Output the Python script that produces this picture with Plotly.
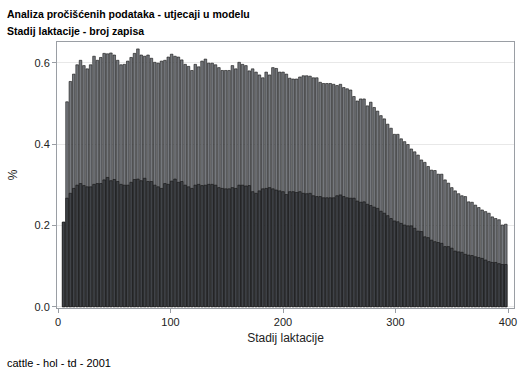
import plotly.graph_objects as go

# Lactation stage (days), one bar every 3 days
days = [5 + 3 * i for i in range(132)]

# Total share (%) - lighter bars
total_pct = [
    0.208, 0.504, 0.554, 0.572, 0.595, 0.606, 0.593, 0.585, 0.595, 0.616,
    0.606, 0.613, 0.623, 0.622, 0.624, 0.619, 0.606, 0.595, 0.596, 0.604,
    0.613, 0.623, 0.634, 0.619, 0.616, 0.619, 0.611,
    0.601, 0.599, 0.604, 0.606, 0.614, 0.621, 0.616, 0.614, 0.607, 0.596,
    0.591, 0.581, 0.596, 0.590, 0.604, 0.609, 0.599, 0.599, 0.595, 0.588,
    0.581, 0.581, 0.581, 0.593, 0.585, 0.601, 0.596,
    0.593, 0.580, 0.585, 0.577, 0.570, 0.563, 0.577, 0.570, 0.588, 0.586,
    0.577, 0.577, 0.572, 0.562, 0.560, 0.560, 0.565, 0.568, 0.568, 0.567,
    0.563, 0.563, 0.552, 0.549, 0.549, 0.549, 0.547,
    0.544, 0.547, 0.539, 0.536, 0.533, 0.517, 0.506, 0.511, 0.511, 0.494,
    0.503, 0.490, 0.481, 0.470, 0.462, 0.449, 0.439, 0.424, 0.424, 0.413,
    0.406, 0.399, 0.388, 0.381, 0.373, 0.361,
    0.355, 0.345, 0.336, 0.335, 0.326, 0.326, 0.312, 0.304, 0.293, 0.285,
    0.278, 0.273, 0.271, 0.258, 0.257, 0.250, 0.244, 0.238, 0.234, 0.230,
    0.221, 0.217, 0.214, 0.201, 0.203,
]

# Subset share (%) - darker bars
subset_pct = [
    0.208, 0.267, 0.279, 0.291, 0.299, 0.303, 0.298, 0.295, 0.295, 0.301,
    0.303, 0.303, 0.312, 0.318, 0.310, 0.313, 0.308, 0.301, 0.299, 0.299,
    0.306, 0.313, 0.314, 0.310, 0.316, 0.308, 0.308,
    0.299, 0.295, 0.291, 0.303, 0.301, 0.309, 0.314, 0.306, 0.308, 0.299,
    0.295, 0.291, 0.299, 0.301, 0.298, 0.299, 0.301, 0.301, 0.299, 0.293,
    0.291, 0.290, 0.290, 0.293, 0.291, 0.299, 0.299,
    0.297, 0.298, 0.283, 0.279, 0.285, 0.290, 0.291, 0.293, 0.290, 0.287,
    0.285, 0.283, 0.276, 0.283, 0.283, 0.281, 0.283, 0.279, 0.278, 0.279,
    0.273, 0.271, 0.271, 0.268, 0.268, 0.268, 0.268,
    0.273, 0.275, 0.271, 0.268, 0.267, 0.267, 0.260, 0.257, 0.258, 0.252,
    0.249, 0.245, 0.242, 0.235, 0.230, 0.224, 0.217, 0.211, 0.209, 0.205,
    0.201, 0.199, 0.199, 0.193, 0.186, 0.185,
    0.172, 0.170, 0.164, 0.160, 0.158, 0.156, 0.148, 0.148, 0.144, 0.137,
    0.135, 0.134, 0.129, 0.127, 0.126, 0.123, 0.121, 0.119, 0.115, 0.111,
    0.109, 0.109, 0.106, 0.104, 0.104,
]

x_ticks = [0, 100, 200, 300, 400]
y_ticks = [0.0, 0.2, 0.4, 0.6]

title_lines = ["Analiza pročišćenih podataka - utjecaji u modelu", "Stadij laktacije - broj zapisa"]
footnote = "cattle - hol - td - 2001"

FONT = "Liberation Sans, Arial, sans-serif"

fig = go.Figure()
fig.add_trace(go.Bar(
    x=days, y=total_pct, width=2.3,
    marker=dict(color="#76797e", line=dict(color="#111111", width=0.6)),
    showlegend=False, hoverinfo="skip",
))
fig.add_trace(go.Bar(
    x=days, y=subset_pct, width=2.3,
    marker=dict(color="#404348", line=dict(color="#111111", width=0.6)),
    showlegend=False, hoverinfo="skip",
))

axis_common = dict(
    showline=True, linecolor="#9a9ea4", linewidth=1, mirror=True,
    ticks="outside", ticklen=4, tickcolor="#9a9ea4",
    tickfont=dict(family=FONT, size=11, color="#222222"),
    zeroline=False,
)

fig.update_layout(
    width=529, height=378,
    margin=dict(l=55, r=12, t=42, b=70),
    paper_bgcolor="white", plot_bgcolor="white",
    barmode="overlay",
    font=dict(family=FONT, size=11, color="#111111"),
    xaxis=dict(
        range=[-0.9, 405.3], tickvals=x_ticks, showgrid=False,
        title=dict(text="Stadij laktacije", font=dict(family=FONT, size=12, color="#222222"), standoff=6),
        **axis_common,
    ),
    yaxis=dict(
        range=[-0.003, 0.651], tickvals=y_ticks, tickformat=".1f",
        showgrid=True, gridcolor="#e8e8e8", gridwidth=1,
        title=dict(text="%", font=dict(family=FONT, size=12, color="#222222"), standoff=14),
        **axis_common,
    ),
    annotations=[
        dict(text="<b>" + title_lines[0] + "</b>", xref="paper", yref="paper",
             x=0, y=0, xanchor="left", yanchor="middle", showarrow=False,
             font=dict(family=FONT, size=10.5, color="#000000")),
        dict(text="<b>" + title_lines[1] + "</b>", xref="paper", yref="paper",
             x=0, y=0, xanchor="left", yanchor="middle", showarrow=False,
             font=dict(family=FONT, size=10.5, color="#000000")),
        dict(text=footnote, xref="paper", yref="paper",
             x=0, y=0, xanchor="left", yanchor="middle", showarrow=False,
             font=dict(family=FONT, size=11, color="#000000")),
    ],
)

# position annotations in pixel terms relative to plot area
plot_h = 378 - 42 - 70
plot_w = 529 - 55 - 12
def px_to_paper(xp, yp):
    return (xp - 55) / plot_w, (378 - 70 - yp) / plot_h

for ann, (xp, yp) in zip(fig.layout.annotations, [(2, 14), (2, 31), (2, 363)]):
    px, py = px_to_paper(xp, yp)
    ann.x = px
    ann.y = py

fig.write_html("out.html", config={"displayModeBar": False},
               post_script="document.body.style.margin='0';")
